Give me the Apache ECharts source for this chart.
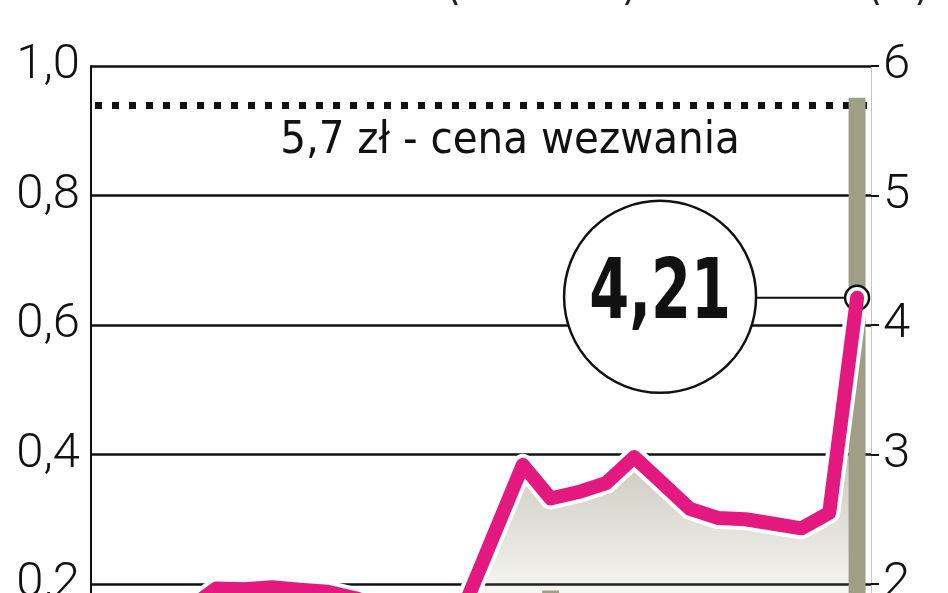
<!DOCTYPE html>
<html>
<head>
<meta charset="utf-8">
<script src="https://cdn.jsdelivr.net/npm/echarts@6.0.0/dist/echarts.min.js"></script>
<style>
  html, body { margin: 0; padding: 0; background: #fff; }
  #chart-kurs { width: 948px; height: 593px; }
</style>
</head>
<body>
<div id="chart-kurs"></div>
<script>
// tygodnie notowan (os X poza kadrem)
const tygodnie = ['1', '2', '3', '4', '5', '6', '7', '8', '9', '10', '11', '12', '13', '14',
    '15', '16', '17', '18', '19', '20', '21', '22', '23', '24', '25', '26', '27', '28'];

// kurs akcji (zl) - prawa os
const kurs = [1.78, 1.76, 1.79, 1.81, 1.965, 1.96, 1.975, 1.955, 1.94, 1.89, 1.82, 1.78, 1.75, 1.88,
    2.40, 2.92, 2.66, 2.71, 2.78, 2.98, 2.78, 2.58, 2.51, 2.50, 2.465, 2.43, 2.55, 4.21];

// wolumen obrotu (mln szt.) - lewa os
const wolumen = [0.05, 0.04, 0.06, 0.08, 0.07, 0.05, 0.06, 0.05, 0.04, 0.05, 0.04, 0.03, 0.03, 0.06,
    0.15, 0.17, 0.19, 0.10, 0.09, 0.12, 0.08, 0.06, 0.05, 0.05, 0.04, 0.05, 0.09, 0.951];

const cenaWezwania = 5.7;
const ostatniKurs = '4,21';

const fontOsi = "Roboto, 'DejaVu Sans Condensed', sans-serif";
const fontOpis = "'DejaVu Sans Condensed', Roboto, sans-serif";

function przecinek(v) {
    return String(v).replace('.', ',');
}

var dom = document.getElementById('chart-kurs');
var myChart = echarts.init(dom, null, {
    renderer: 'canvas',
    useDirtyRect: false
});

var option = {
    backgroundColor: '#ffffff',
    animation: false,
    grid: {
        left: 91,
        right: 77,
        top: 66,
        height: 647.5,
        containLabel: false,
        outerBoundsMode: 'none'
    },
    xAxis: {
        type: 'category',
        data: tygodnie,
        boundaryGap: true,
        axisLine: { show: false },
        axisTick: { show: false },
        axisLabel: { show: false },
        splitLine: { show: false }
    },
    yAxis: [
        {
            type: 'value',
            min: 0,
            max: 1,
            interval: 0.2,
            position: 'left',
            axisLine: { show: true, lineStyle: { color: '#111', width: 2 } },
            axisTick: { show: false },
            axisLabel: {
                margin: 11,
                color: '#111',
                fontSize: 49,
                fontWeight: 300,
                fontFamily: fontOsi,
                formatter: function (v) { return v.toFixed(1).replace('.', ','); }
            },
            splitLine: { show: true, lineStyle: { color: '#111', width: 2.5 } }
        },
        {
            type: 'value',
            min: 1,
            max: 6,
            interval: 1,
            position: 'right',
            axisLine: { show: true, lineStyle: { color: '#c4c4c4', width: 1 } },
            axisTick: { show: true, inside: false, length: 8, lineStyle: { color: '#111', width: 2 } },
            axisLabel: {
                margin: 12,
                color: '#111',
                fontSize: 49,
                fontWeight: 300,
                fontFamily: fontOsi
            },
            splitLine: { show: false }
        }
    ],
    series: [
        {
            // cien pod linia kursu
            name: 'tlo',
            type: 'line',
            yAxisIndex: 1,
            data: kurs,
            symbol: 'none',
            silent: true,
            z: 2,
            lineStyle: { width: 0 },
            areaStyle: {
                color: {
                    type: 'linear', x: 0, y: 465, x2: 0, y2: 600, global: true,
                    colorStops: [
                        { offset: 0, color: 'rgba(150,147,122,0.66)' },
                        { offset: 1, color: 'rgba(150,147,122,0.1)' }
                    ]
                }
            },
            markLine: {
                z: 2,
                silent: true,
                symbol: 'none',
                label: { show: false },
                lineStyle: { color: '#111', width: 7, type: [7, 10], dashOffset: -4, cap: 'butt' },
                data: [{ yAxis: cenaWezwania }]
            }
        },
        {
            name: 'wolumen',
            type: 'bar',
            yAxisIndex: 0,
            data: wolumen,
            barWidth: 17,
            z: 3,
            itemStyle: { color: '#a09e87' }
        },
        {
            // biala obwodka linii
            name: 'obwodka',
            type: 'line',
            yAxisIndex: 1,
            data: kurs,
            symbol: 'none',
            silent: true,
            z: 4,
            lineStyle: { color: '#ffffff', width: 22, join: 'round', cap: 'round' }
        },
        {
            name: 'kurs',
            type: 'line',
            yAxisIndex: 1,
            data: kurs,
            symbol: 'none',
            z: 5,
            lineStyle: { color: '#e3197f', width: 14, join: 'round', cap: 'round' },
            markPoint: {
                silent: true,
                label: { show: false },
                data: [
                    {
                        coord: [kurs.length - 1, kurs[kurs.length - 1]],
                        symbol: 'circle', symbolSize: 24,
                        itemStyle: { color: '#fff', borderColor: '#111', borderWidth: 2.5 }
                    },
                    {
                        coord: [kurs.length - 1, kurs[kurs.length - 1]],
                        symbol: 'circle', symbolSize: 8,
                        itemStyle: { color: '#111' }
                    }
                ]
            }
        }
    ]
};

myChart.setOption(option);

// opisy: cena wezwania + kolko z ostatnim kursem
var pKoniec = myChart.convertToPixel({ xAxisIndex: 0, yAxisIndex: 1 }, [kurs.length - 1, kurs[kurs.length - 1]]);
var yWezw = myChart.convertToPixel({ yAxisIndex: 1 }, cenaWezwania);
var rKolo = 96;
var cx = pKoniec[0] - 197;

myChart.setOption({
    graphic: [
        {
            type: 'text', x: 97, y: -13, scaleX: 0.94, silent: true,
            style: { text: 'Wolumen obrotu (mln szt.)', fill: '#222', font: '48px ' + fontOpis, textAlign: 'left', textVerticalAlign: 'middle' }
        },
        {
            type: 'text', x: 768, y: -13, scaleX: 0.92, silent: true,
            style: { text: 'Kurs (zł)', fill: '#222', font: '48px ' + fontOpis, textAlign: 'left', textVerticalAlign: 'middle' }
        },
        {
            type: 'text', x: 510, y: yWezw + 36, silent: true,
            style: { text: przecinek(cenaWezwania) + ' zł - cena wezwania', fill: '#111', font: '45px ' + fontOpis, textAlign: 'center', textVerticalAlign: 'middle' }
        },
        {
            type: 'line', silent: true, z: 10,
            shape: { x1: cx + rKolo, y1: pKoniec[1], x2: pKoniec[0] - 12, y2: pKoniec[1] },
            style: { stroke: '#111', lineWidth: 2 }
        },
        {
            type: 'circle', silent: true, z: 10,
            shape: { cx: cx, cy: pKoniec[1] - 1, r: rKolo },
            style: { fill: '#fff', stroke: '#111', lineWidth: 2.5 }
        },
        {
            type: 'text', x: cx, y: pKoniec[1] - 2, scaleX: 0.76, silent: true, z: 11,
            style: { text: ostatniKurs, fill: '#111', font: 'bold 84px ' + fontOpis, textAlign: 'center', textVerticalAlign: 'middle' }
        }
    ]
});

window.addEventListener('resize', myChart.resize);
</script>
</body>
</html>
